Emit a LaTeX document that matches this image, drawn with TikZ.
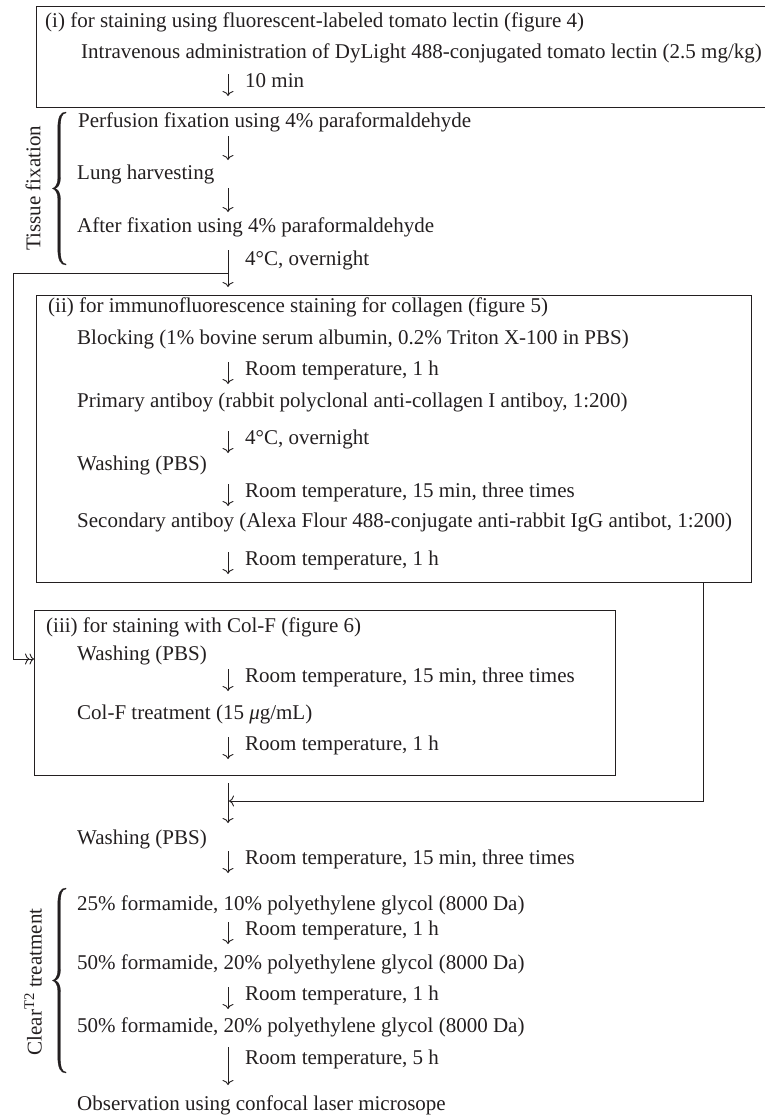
\documentclass[tikz,border=0pt]{standalone}
\usepackage{fontspec}
\setmainfont{Liberation Serif}
\usetikzlibrary{arrows.meta}
\definecolor{ink}{HTML}{231F20}
\tikzset{
  txt/.style={anchor=west, inner sep=0pt, text height=0.7em, text depth=0.2em, font=\fontsize{21}{24}\selectfont, text=ink},
  rtxt/.style={inner sep=0pt, rotate=90, font=\fontsize{21}{24}\selectfont, text=ink},
  box/.style={draw=ink, line width=1.1pt, inner sep=0pt, anchor=north west},
  arr/.style={draw=ink, line width=0.9pt, -{To[length=5pt,width=11pt]}},
  darr/.style={draw=ink, line width=0.9pt, -{To[length=4.5pt,width=11pt] To[length=4.5pt,width=11pt]}},
  bracefill/.style={fill=ink, draw=ink, line width=0.3pt},
}
\newcommand\stepdown[3]{%
  \coordinate (#1s) at (228,{#2-11});
  \coordinate (#1e) at (228,{#2+11});
  \draw[arr] (#1s) -- (#1e);
  \node[txt] (#1) at (245,#2) {#3};}
\newcommand\plaindown[2]{%
  \coordinate (#1s) at (228,{#2-12});
  \coordinate (#1e) at (228,{#2+12});
  \draw[arr] (#1s) -- (#1e);}
% calligraphic left brace: #1 = top y, #2 = bottom y
\newcommand\calbrace[2]{%
  \pgfmathsetmacro\bym{(#1+#2)/2}%
  \path[bracefill]
    (66,#1) .. controls (60.5,#1) and (57.8,{#1+5}) .. (57.8,{#1+16})
    -- (57.8,{\bym-10})
    .. controls (57.8,{\bym-4}) and (55,{\bym-0.8}) .. (52.5,\bym)
    .. controls (55,{\bym+0.8}) and (57.8,{\bym+4}) .. (57.8,{\bym+10})
    -- (57.8,{#2-16})
    .. controls (57.8,{#2-5}) and (60.5,#2) .. (66,#2)
    -- (66,{#2-0.9})
    .. controls (61.6,{#2-1.2}) and (60.4,{#2-6}) .. (60.4,{#2-16})
    -- (60.4,{\bym+11})
    .. controls (60.4,{\bym+3}) and (57.5,{\bym+0.4}) .. (54.5,\bym)
    .. controls (57.5,{\bym-0.4}) and (60.4,{\bym-3}) .. (60.4,{\bym-11})
    -- (60.4,{#1+16})
    .. controls (60.4,{#1+6}) and (61.6,{#1+1.2}) .. (66,{#1+0.9})
    -- cycle;}
\begin{document}
\begin{tikzpicture}[x=1pt,y=-1pt]
\useasboundingbox (0,0) rectangle (765,1119);
\clip (0,0) rectangle (765,1119);
% boxes
\node[box, minimum width=774pt, minimum height=101pt] (boxi) at (36,6) {};
\node[box, minimum width=715pt, minimum height=287pt] (boxii) at (36,295) {};
\node[box, minimum width=581pt, minimum height=165pt] (boxiii) at (34,610) {};

% section (i)
\node[txt] (t1) at (45,25) {(i) for staining using fluorescent-labeled tomato lectin (figure 4)};
\node[txt] (t2) at (81,56) {Intravenous administration of DyLight 488-conjugated tomato lectin (2.5 mg/kg)};
\stepdown{a1}{85}{10 min}

% tissue fixation
\node[txt] (s1) at (78,125) {Perfusion fixation using 4\% paraformaldehyde};
\plaindown{a2}{148}
\node[txt] (s2) at (77,177) {Lung harvesting};
\plaindown{a3}{200}
\node[txt] (s3) at (77,230) {After fixation using 4\% paraformaldehyde};
\coordinate (a4s) at (228,250);
\coordinate (a4e) at (228,287);
\coordinate (j1) at (228,273);
\draw[arr] (a4s) -- (a4e);
\node[txt] (a4) at (245,263) {4°C, overnight};
\calbrace{112}{265}
\node[rtxt] (tf) at (33,188) {Tissue fixation};

% section (ii)
\node[txt] (h2) at (48,310) {(ii) for immunofluorescence staining for collagen (figure 5)};
\node[txt] (b1) at (77,342) {Blocking (1\% bovine serum albumin, 0.2\% Triton X-100 in PBS)};
\stepdown{a5}{373}{Room temperature, 1 h}
\node[txt] (b2) at (77,405) {Primary antiboy (rabbit polyclonal anti-collagen I antiboy, 1:200)};
\stepdown{a6}{442}{4°C, overnight}
\node[txt] (b3) at (77,468) {Washing (PBS)};
\stepdown{a7}{495}{Room temperature, 15 min, three times}
\node[txt] (b4) at (77,525) {Secondary antiboy (Alexa Flour 488-conjugate anti-rabbit IgG antibot, 1:200)};
\stepdown{a8}{563}{Room temperature, 1 h}

% section (iii)
\node[txt] (h3) at (46,630) {(iii) for staining with Col-F (figure 6)};
\node[txt] (c1) at (77,658) {Washing (PBS)};
\stepdown{a9}{680}{Room temperature, 15 min, three times}
\node[txt] (c2) at (77,717) {Col-F treatment (15 \textit{μ}g/mL)};
\stepdown{a10}{748}{Room temperature, 1 h}

% loops
\draw[darr] (j1) -- (13,273) -- (13,659) -- (boxiii.west |- 0,659);
\coordinate (j2) at (229,801);
\draw[arr] (boxii.south -| 703,0) -- (703,801) -- (j2);
\coordinate (a11s) at (228,783);
\coordinate (a11e) at (228,823);
\draw[arr] (a11s) -- (a11e);

% final
\node[txt] (w) at (77,842) {Washing (PBS)};
\stepdown{a12}{862}{Room temperature, 15 min, three times}
\node[txt] (d1) at (77,908) {25\% formamide, 10\% polyethylene glycol (8000 Da)};
\stepdown{a13}{933}{Room temperature, 1 h}
\node[txt] (d2) at (77,967) {50\% formamide, 20\% polyethylene glycol (8000 Da)};
\stepdown{a14}{998}{Room temperature, 1 h}
\node[txt] (d3) at (77,1030) {50\% formamide, 20\% polyethylene glycol (8000 Da)};
\coordinate (a15s) at (228,1047);
\coordinate (a15e) at (228,1085);
\draw[arr] (a15s) -- (a15e);
\node[txt] (a15) at (245,1062) {Room temperature, 5 h};
\node[txt] (obs) at (77,1108) {Observation using confocal laser microsope};
\calbrace{888}{1073}
\node[rtxt] (ct) at (33,982) {Clear\textsuperscript{T2} treatment};
\end{tikzpicture}
\end{document}
